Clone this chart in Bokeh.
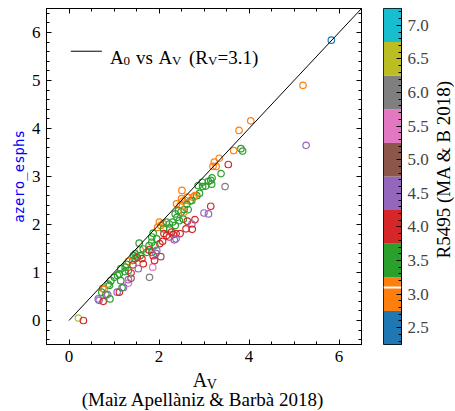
import numpy as np
from bokeh.plotting import figure
from bokeh.models import (ColumnDataSource, LinearColorMapper, FixedTicker, LinearAxis,
                          Label, Span, PrintfTickFormatter)
from bokeh.layouts import row, column
from bokeh.embed import file_html
from bokeh.resources import INLINE

# ---------------- data ----------------
av = [5.83, 5.20, 4.04, 3.78, 5.27, 3.82, 3.86, 3.66, 3.34, 3.23, 3.27, 3.20, 3.54, 3.38, 3.47,
      3.18, 3.15, 3.10, 3.17, 3.04, 2.96, 2.87, 2.97, 2.90, 2.84, 2.80, 2.76, 2.73, 2.69, 2.50,
      2.63, 2.58, 2.53, 2.49, 2.56, 2.65, 2.62, 3.15, 3.00, 3.10, 2.54, 2.63, 2.80, 2.73, 2.60,
      2.74, 2.51, 2.39, 2.47, 2.43, 2.36, 2.56, 2.01, 2.04, 1.97, 2.09, 2.17, 2.23, 2.30, 2.10,
      2.24, 2.36, 2.28, 2.17, 2.23, 2.32, 2.11, 1.87, 1.84, 1.95, 1.84, 2.38, 2.47, 2.38, 2.34,
      2.08, 2.02, 1.78, 1.91, 1.58, 1.65, 1.73, 1.84, 1.78, 1.87, 1.95, 1.93, 2.04, 1.86, 1.79,
      1.58, 1.47, 1.42, 1.62, 1.65, 1.56, 1.43, 1.52, 1.90, 1.32, 1.42, 1.54, 1.15, 1.25, 1.24,
      1.32, 1.38, 1.01, 1.08, 1.15, 1.32, 1.32, 0.93, 0.87, 0.90, 0.75, 0.78, 0.73, 0.82, 0.86,
      1.07, 1.12, 1.21, 1.18, 0.65, 0.67, 0.76, 0.91, 0.21, 0.32, 1.50, 1.47, 1.12, 1.28, 1.38,
      2.40, 2.45]
a0 = [5.84, 4.90, 4.16, 3.96, 3.65, 3.58, 3.53, 3.54, 3.38, 3.30, 3.21, 3.21, 3.25, 3.06, 2.79,
      2.97, 2.92, 2.90, 2.84, 2.80, 2.88, 2.81, 2.79, 2.65, 2.60, 2.60, 2.57, 2.50, 2.49, 2.54,
      2.57, 2.50, 2.49, 2.26, 2.31, 2.31, 2.42, 2.38, 2.24, 2.22, 2.11, 2.07, 2.10, 2.01, 1.91,
      1.90, 2.71, 2.43, 2.40, 2.29, 2.22, 2.26, 2.05, 1.98, 1.94, 2.02, 2.05, 2.01, 2.05, 1.91,
      1.91, 1.98, 1.84, 1.77, 1.74, 1.79, 1.81, 1.82, 1.74, 1.70, 1.63, 1.81, 1.81, 1.70, 1.68,
      1.65, 1.60, 1.56, 1.56, 1.47, 1.49, 1.42, 1.42, 1.47, 1.35, 1.46, 1.40, 1.33, 1.11, 0.90,
      1.35, 1.29, 1.25, 1.29, 1.18, 1.61, 1.35, 1.31, 1.25, 1.23, 1.16, 1.08, 1.08, 1.11, 1.02,
      1.04, 0.99, 0.90, 0.94, 0.83, 0.85, 0.78, 0.83, 0.76, 0.73, 0.67, 0.65, 0.59, 0.54, 0.54,
      0.59, 0.59, 0.69, 0.68, 0.45, 0.42, 0.40, 0.45, 0.05, 0.00, 1.33, 1.39, 0.97, 1.17, 0.88,
      2.15, 2.08]
r5495 = [2.5, 3.0, 3.0, 3.0, 4.5, 3.5, 3.5, 3.0, 3.0, 3.0, 3.0, 3.0, 4.0, 3.5, 6.0,
         3.5, 3.5, 3.5, 3.5, 3.5, 3.5, 3.5, 3.5, 3.5, 3.5, 3.0, 3.0, 3.5, 3.5, 3.0,
         3.0, 3.0, 3.0, 3.5, 3.5, 3.5, 3.5, 4.0, 4.5, 4.5, 3.5, 4.0, 4.0, 4.5, 4.0,
         4.0, 3.0, 3.0, 3.0, 3.5, 3.5, 3.0, 3.0, 3.0, 3.0, 3.0, 3.5, 3.5, 3.5, 3.5,
         3.5, 3.5, 4.0, 4.0, 4.0, 4.0, 4.0, 3.5, 3.5, 3.5, 3.5, 4.0, 4.0, 4.5, 4.5,
         4.0, 4.0, 3.5, 3.5, 3.0, 3.5, 3.5, 3.5, 4.0, 4.0, 4.5, 4.5, 5.0, 5.5, 6.0,
         3.5, 3.5, 3.5, 4.0, 4.0, 3.5, 3.5, 4.0, 4.0, 3.0, 4.0, 4.5, 3.5, 3.5, 3.5,
         3.5, 4.0, 3.5, 3.5, 3.5, 4.5, 5.5, 3.5, 3.5, 3.5, 3.0, 3.0, 3.5, 3.5, 4.5,
         4.5, 4.0, 4.5, 3.5, 4.5, 4.5, 4.0, 3.5, 6.5, 4.0, 3.5, 3.5, 3.5, 3.5, 5.0,
         3.5, 3.5]

ref_av = [0.0, 7.0]          # A0 = AV reference line (R_V = 3.1)
ref_slope = 1.0

cbar_lo = [2.25, 2.75, 3.25, 3.75, 4.25, 4.75, 5.25, 5.75, 6.25, 6.75]
cbar_hi = [2.75, 3.25, 3.75, 4.25, 4.75, 5.25, 5.75, 6.25, 6.75, 7.25]
cbar_colors = ["#1f77b4", "#ff7f0e", "#2ca02c", "#d62728", "#9467bd",
               "#8c564b", "#e377c2", "#7f7f7f", "#bcbd22", "#17becf"]
cbar_ticks = [2.5, 3.0, 3.5, 4.0, 4.5, 5.0, 5.5, 6.0, 6.5, 7.0]
rv_mark = 3.1

x_ticks = [0, 2, 4, 6]
y_ticks = [0, 1, 2, 3, 4, 5, 6]

SERIF = "Liberation Serif"
TICK_PX = "17px"

ML, MR, MT, MB = 46, 5, 8, 24   # main plot borders
FW, FH = 315, 336               # frame size
TOP_H = MT + FH + MB            # 368
BOT_H = 42

# ---------------- main figure ----------------
p = figure(width=ML + FW + MR, height=TOP_H, x_range=(-0.5, 6.5), y_range=(-0.5, 6.5),
           output_backend="svg", toolbar_location=None,
           min_border_left=ML, min_border_right=MR, min_border_top=MT, min_border_bottom=MB)
p.grid.visible = False
p.outline_line_color = "black"
p.background_fill_color = "white"
p.border_fill_color = "white"

xt = FixedTicker(ticks=x_ticks, minor_ticks=list(np.arange(-0.5, 6.51, 0.5)))
yt = FixedTicker(ticks=y_ticks, minor_ticks=list(np.round(np.arange(-0.4, 6.5, 0.2), 2)))
bot_ax = p.below[0]
left_ax = p.left[0]
bot_ax.ticker = xt
left_ax.ticker = yt
top_ax = LinearAxis(ticker=xt)
right_ax = LinearAxis(ticker=yt)
p.add_layout(top_ax, "above")
p.add_layout(right_ax, "right")

for ax in [bot_ax, left_ax, top_ax, right_ax]:
    ax.major_tick_in = 5
    ax.major_tick_out = 0
    ax.minor_tick_in = 3
    ax.minor_tick_out = 0
    ax.axis_line_color = "black"
    ax.major_tick_line_color = "black"
    ax.minor_tick_line_color = "black"
    ax.major_label_text_font = SERIF
    ax.major_label_text_font_size = TICK_PX
    ax.major_label_text_color = "black"
for ax in [top_ax, right_ax]:
    ax.major_label_text_font_size = "0px"
    ax.major_label_text_color = None
    ax.major_label_text_alpha = 0
    ax.major_label_standoff = 0
bot_ax.major_label_standoff = 6
left_ax.major_label_standoff = 6

left_ax.axis_label = "azero_esphs"
left_ax.axis_label_text_font = "DejaVu Sans Mono"
left_ax.axis_label_text_font_size = "14px"
left_ax.axis_label_text_font_style = "normal"
left_ax.axis_label_text_color = "#0000ff"
left_ax.axis_label_standoff = 2

mapper = LinearColorMapper(palette=cbar_colors, low=cbar_lo[0], high=cbar_hi[-1])
src = ColumnDataSource(dict(av=av, a0=a0, r=r5495))
p.scatter("av", "a0", source=src, marker="circle", size=6.5, fill_color=None,
          line_color={"field": "r", "transform": mapper}, line_width=1.2)

ref_a0 = [v * ref_slope for v in ref_av]
p.line(ref_av, ref_a0, line_color="black", line_width=1)

def txt(fig, x, y, s, size, **kw):
    fig.add_layout(Label(x=x, y=y, text=s, text_font=SERIF, text_font_size=size,
                         text_color="black", **kw))

# legend (manual, for subscripts)
p.segment(x0=[0.04], y0=[5.61], x1=[0.73], y1=[5.61], line_color="black", line_width=1)
base, sub = 5.479, 5.415
txt(p, 0.911, base, "A", "19px", text_baseline="alphabetic")
txt(p, 1.211, sub, "0", "13px", text_baseline="alphabetic")
txt(p, 1.489, base, "vs", "19px", text_baseline="alphabetic")
txt(p, 1.991, base, "A", "19px", text_baseline="alphabetic")
txt(p, 2.289, sub, "V", "13px", text_baseline="alphabetic")
txt(p, 2.667, base, "(R", "19px", text_baseline="alphabetic")
txt(p, 3.089, sub, "V", "13px", text_baseline="alphabetic")
txt(p, 3.300, base, "=3.1)", "19px", text_baseline="alphabetic")

# ---------------- x-axis label strip (shares x range) ----------------
xl = figure(width=ML + FW + MR, height=BOT_H, x_range=p.x_range, y_range=(0, BOT_H),
            output_backend="svg", toolbar_location=None, x_axis_type=None, y_axis_type=None,
            min_border_left=ML, min_border_right=MR, min_border_top=0, min_border_bottom=0)
xl.grid.visible = False
xl.outline_line_color = None
xl.border_fill_color = "white"
txt(xl, 2.75, BOT_H - 11, "A", "20px", text_baseline="middle")
txt(xl, 3.06, BOT_H - 16, "V", "14px", text_baseline="middle")
txt(xl, 2.978, BOT_H - 31, "(Maìz Apellàniz & Barbà 2018)", "19px", text_align="center",
    text_baseline="middle")

# ---------------- colour bar ----------------
CB_L, CB_W, CB_R = 17, 18, 30
cb = figure(width=CB_L + CB_W + CB_R, height=TOP_H, x_range=(0, 1),
            y_range=(cbar_lo[0], cbar_hi[-1]),
            output_backend="svg", toolbar_location=None, y_axis_location="right",
            x_axis_type=None, min_border_left=CB_L, min_border_right=CB_R,
            min_border_top=MT, min_border_bottom=MB)
cb.grid.visible = False
cb.outline_line_color = "black"
cb.border_fill_color = "white"
cb.quad(left=0, right=1, bottom=cbar_lo, top=cbar_hi, fill_color=cbar_colors, line_color=None)
cb.add_layout(Span(location=rv_mark, dimension="width", line_color="white", line_width=2))
cax = cb.right[0]
cax.ticker = FixedTicker(ticks=cbar_ticks, minor_ticks=list(np.round(np.arange(2.3, 7.25, 0.1), 2)))
cax.formatter = PrintfTickFormatter(format="%.1f")
cax.major_tick_in = 5
cax.major_tick_out = 0
cax.minor_tick_in = 3
cax.minor_tick_out = 0
cax.axis_line_color = "black"
cax.major_tick_line_color = "black"
cax.minor_tick_line_color = "black"
cax.major_label_text_font = SERIF
cax.major_label_text_font_size = TICK_PX
cax.major_label_standoff = 6

# colour-bar title strip
CL_W = 24
cl = figure(width=CL_W, height=TOP_H, x_range=(0, CL_W), y_range=(0, TOP_H),
            output_backend="svg", toolbar_location=None, x_axis_type=None, y_axis_type=None,
            min_border_left=0, min_border_right=0, min_border_top=0, min_border_bottom=0)
cl.grid.visible = False
cl.outline_line_color = None
cl.border_fill_color = "white"
txt(cl, 12, TOP_H - 176, "R5495 (MA & B 2018)", "19px", angle=np.pi / 2,
    text_align="center", text_baseline="middle")

layout = column(row(p, cb, cl), xl)
open("out.html", "w").write(file_html(layout, INLINE))
